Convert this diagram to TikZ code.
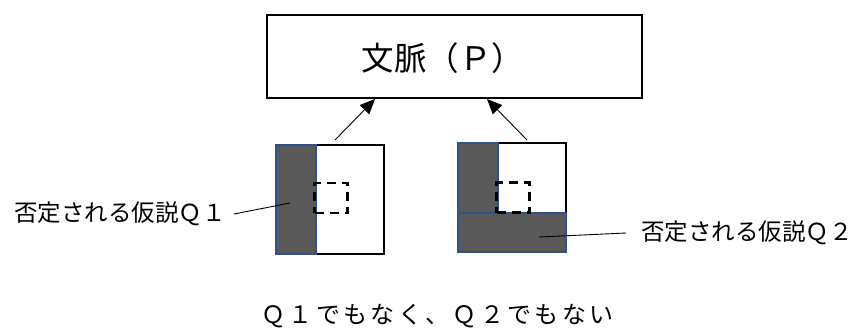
\documentclass[tikz,border=0pt]{standalone}
\usepackage{fontspec}
\setmainfont{Noto Sans CJK JP}
\newfontfamily\jpfont{Noto Sans CJK JP}
\newfontfamily\jpspaced[LetterSpace=14]{Noto Sans CJK JP}
\usetikzlibrary{arrows.meta}
\definecolor{fillgray}{HTML}{595959}
\definecolor{edgeblue}{HTML}{2F528F}
\tikzset{
  ctxbox/.style={draw=black,line width=1.6pt,minimum width=375pt,minimum height=83pt,inner sep=0pt},
  outersq/.style={draw=black,line width=1.6pt,fill=white,inner sep=0pt},
  grayblk/.style={draw=edgeblue,line width=1.3pt,fill=fillgray,inner sep=0pt},
  dashsq/.style={draw=black,line width=2.6pt,dash pattern=on 9pt off 6pt,inner sep=0pt,minimum width=33pt,minimum height=30pt},
  arr/.style={line width=0.9pt,-{Triangle[length=15pt,width=13pt]}},
  leader/.style={line width=0.9pt},
  lbl/.style={inner sep=0pt,font=\jpfont\fontsize{23.5pt}{26pt}\selectfont},
}
\begin{document}
\begin{tikzpicture}[x=1pt,y=-1pt]
\useasboundingbox (0,0) rectangle (859,327);
% context box
\node[ctxbox] (ctx) at (454.5,56.5) {};
\node[inner sep=0pt,font=\jpfont\fontsize{32.5pt}{34pt}\selectfont] (ctxt) at (443,58) {文脈（Ｐ）};
% left square
\node[outersq,minimum width=108pt,minimum height=109pt] (sq1) at (330,199.5) {};
\node[grayblk,minimum width=40pt,minimum height=109pt] (g1) at (296,199.5) {};
\node[dashsq] (d1) at (331,198) {};
% right square
\node[outersq,minimum width=108pt,minimum height=109pt] (sq2) at (512,197.5) {};
\node[grayblk,minimum width=40pt,minimum height=70pt] (g2a) at (478,178) {};
\node[grayblk,minimum width=108pt,minimum height=39pt] (g2b) at (512,232.5) {};
\node[dashsq] (d2) at (513,197.5) {};
% arrows
\coordinate (t1) at (335,140);
\coordinate (h1) at (375,99);
\coordinate (t2) at (527,140);
\coordinate (h2) at (487,99);
\draw[arr] (t1) -- (h1);
\draw[arr] (t2) -- (h2);
% labels
\node[lbl] (l1) at (120,214) {否定される仮説Ｑ１};
\node[lbl] (l2) at (747,233) {否定される仮説Ｑ２};
\coordinate (p1) at (290,203);
\coordinate (p2) at (539,237);
\draw[leader] ([xshift=8pt]l1.east) -- (p1);
\draw[leader] (p2) -- ([xshift=-15pt]l2.west);
% bottom text
\node[inner sep=0pt,font=\jpspaced\fontsize{24pt}{26pt}\selectfont] (bt) at (437.5,316) {Ｑ１でもなく、Ｑ２でもない};
\end{tikzpicture}
\end{document}
